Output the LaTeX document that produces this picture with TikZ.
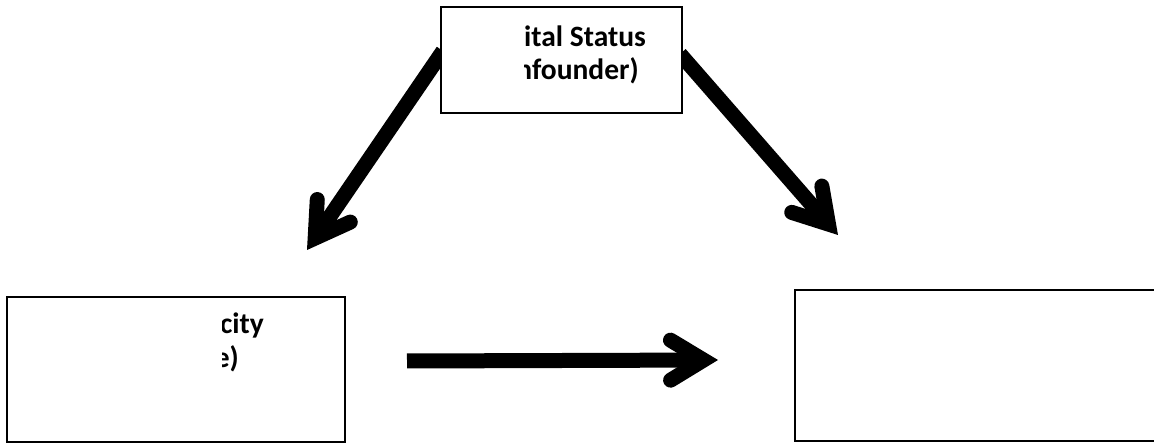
\documentclass[tikz,border=0pt]{standalone}
\usepackage{fontspec}
\setmainfont{Carlito}
\usetikzlibrary{arrows.meta,backgrounds}
\begin{document}
\begin{tikzpicture}[x=1pt,y=-1pt,
  box/.style={draw=black,line width=2pt,fill=white,inner sep=0pt},
  lbl/.style={font=\fontsize{29.5}{29.5}\selectfont\bfseries,inner sep=0pt},
  bigarrow/.style={line width=15pt,
    -{Straight Barb[length=33pt,width=40pt,line cap=round,line join=miter]},
    preaction={draw=black!18,transform canvas={shift={(1.6pt,-1.6pt)}}}}]
\useasboundingbox (0,0) rectangle (1154,443);
\clip (0,0) rectangle (1154,443);
% boxes
\node[box,minimum width=241pt,minimum height=106pt] (conf) at (561.5,60) {};
\node[box,minimum width=338pt,minimum height=145pt] (expo) at (176,369.5) {};
\node[box,minimum width=375pt,minimum height=151pt] (outc) at (982.5,365.5) {};
% texts (clipped as in the reference)
\begin{scope}
  \clip (524,10) rectangle (680,110);
  \node[lbl,anchor=base east] (c1) at (646,47) {ital Status};
  \node[lbl,anchor=base east] (c2) at (639,80) {nfounder)};
\end{scope}
\begin{scope}
  \clip (222,300) rectangle (340,440);
  \node[lbl,anchor=base east] (e1) at (264,334) {city};
  \node[lbl,anchor=base east] (e2) at (239,368) {e)};
\end{scope}
% arrows
\coordinate (a1s) at (443,51);
\coordinate (a1e) at (307,250);
\coordinate (a2s) at (680,54);
\coordinate (a2e) at (838,235);
\coordinate (a3s) at (407,361);
\coordinate (a3e) at (718,360);
\begin{scope}[on background layer]
  \draw[bigarrow] (a1s) -- (a1e);
  \draw[bigarrow] (a2s) -- (a2e);
\end{scope}
\draw[bigarrow,line cap=butt] (a3s) -- (a3e);
\end{tikzpicture}
\end{document}
